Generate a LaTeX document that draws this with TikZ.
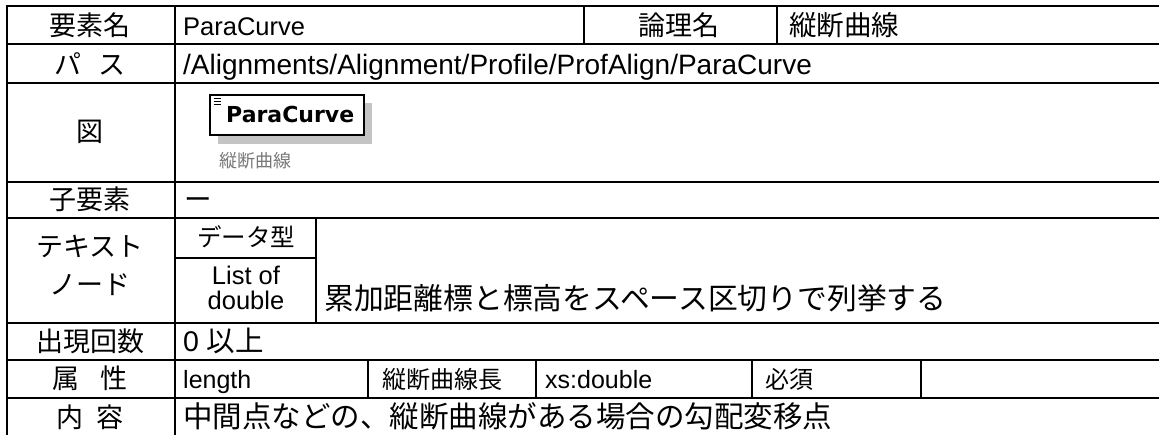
\documentclass[tikz,border=0pt]{standalone}
\usepackage{fontspec}
\setmainfont{Liberation Sans}
\newfontfamily\jp{Noto Sans CJK JP}
\newfontfamily\iconfont{DejaVu Sans}
\definecolor{shadowgray}{RGB}{196,196,196}
\definecolor{labelgray}{RGB}{120,120,120}
\begin{document}
\begin{tikzpicture}[x = 1pt, y = -1pt,
        rule/.style = {line width = 2.5pt},
        subrule/.style = {line width = 1.9pt},
        head/.style = {anchor = base, inner sep = 0pt, font = \jp\fontsize{27}{32}\selectfont},
        cell/.style = {anchor = base west, inner sep = 0pt, font = \fontsize{27}{32}\selectfont},
        jcell/.style = {cell, font = \jp\fontsize{27.5}{32}\selectfont},
        jlong/.style = {cell, font = \jp\fontsize{29.8}{34}\selectfont},
        small/.style = {anchor = base west, inner sep = 0pt, font = \fontsize{25}{29}\selectfont},
        jsmall/.style = {small, font = \jp\fontsize{24}{28}\selectfont},
        typecell/.style = {anchor = base, inner sep = 0pt, font = \fontsize{25.5}{30}\selectfont}]
        \useasboundingbox (0,0) rectangle (1159,434);
        \clip (0,0) rectangle (1159,434);
        % table lines
        \foreach \y in {6, 44, 83, 182, 218, 323, 360, 398} {
            \draw[rule] (6,\y) -- (1165,\y);
        }
        \draw[rule] (7,5) -- (7,440);
        \draw[rule] (175,5) -- (175,440);
        \draw[subrule] (584,6) -- (584,44);
        \draw[subrule] (777,6) -- (777,44);
        \draw[subrule] (316,218) -- (316,323);
        \draw[subrule] (175,258) -- (316,258);
        \foreach \x in {368, 536, 752, 921} {
            \draw[subrule] (\x,360) -- (\x,398);
        }
        % headings
        \node[head] (nameHead) at (90,35) {要素名};
        \node[head] (logicHead) at (679,35) {論理名};
        \node[head] (pathHead) at (90,74) {パ\hspace{0.6em}ス};
        \node[head] (figHead) at (90,141) {図};
        \node[head] (childHead) at (90,209) {子要素};
        \node[head] (textHead) at (90,256) {テキスト};
        \node[head] (nodeHead) at (90,294) {ノード};
        \node[head] (countHead) at (90,351) {出現回数};
        \node[head] (attrHead) at (90,388) {属\hspace{0.8em}性};
        \node[head] (descHead) at (90,427) {内\hspace{0.5em}容};
        % values
        \node[cell, font = \fontsize{25.5}{30}\selectfont] (nameVal) at (183,35) {ParaCurve};
        \node[jcell] (logicVal) at (789,35) {縦断曲線};
        \node[cell, font = \fontsize{28}{33}\selectfont] (pathVal) at (183,74) {/Alignments/Alignment/Profile/ProfAlign/ParaCurve};
        \node[jcell] (childVal) at (184,209) {ー};
        \node[head, font = \jp\fontsize{24.5}{29}\selectfont] (typeHead) at (246,246) {データ型};
        \node[typecell] (typeVal1) at (246,284) {List of};
        \node[typecell] (typeVal2) at (246,309) {double};
        \node[jlong] (textVal) at (324,309) {累加距離標と標高をスペース区切りで列挙する};
        \node[cell, font = \fontsize{28.5}{33}\selectfont] (countVal) at (183,351) {0 {\jp 以上}};
        \node[small] (attrName) at (183,388) {length};
        \node[jsmall] (attrLogic) at (382,388) {縦断曲線長};
        \node[small] (attrType) at (545,388) {xs:double};
        \node[jsmall] (attrUse) at (765,388) {必須};
        \node[jlong, font = \jp\fontsize{29.5}{34}\selectfont] (descVal) at (183,427) {中間点などの、縦断曲線がある場合の勾配変移点};
        % element figure
        \fill[shadowgray] (218,103) rectangle (372,144);
        \draw[line width = 1.5pt, fill = white] (210,95) rectangle (364,135);
        \foreach \y in {98.5, 101.5, 104.5} {
            \draw[line width = 0.9pt] (213.5,\y) -- (221,\y);
        }
        \node[anchor = base west, inner sep = 0pt, font = \iconfont\bfseries\fontsize{22}{26}\selectfont] (elemName) at (226,122) {ParaCurve};
        \node[anchor = base west, inner sep = 0pt, text = labelgray, font = \jp\fontsize{18}{21}\selectfont] (elemLabel) at (219,167) {縦断曲線};
\end{tikzpicture}
\end{document}
